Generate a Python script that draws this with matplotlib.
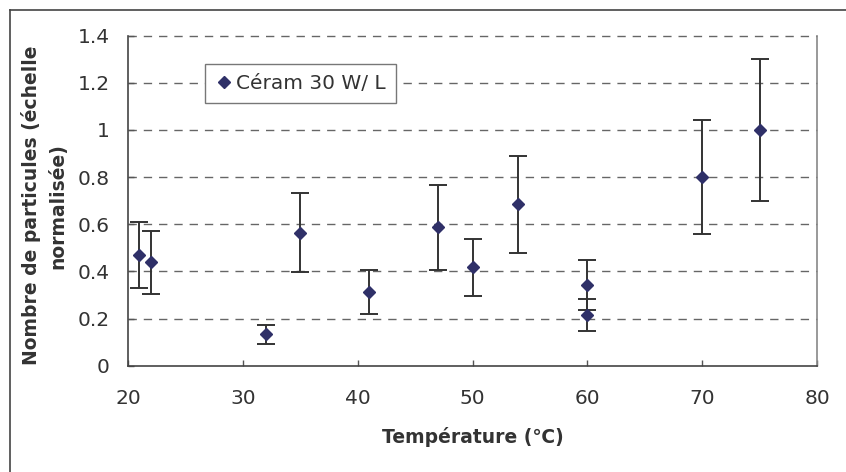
import matplotlib
matplotlib.use("Agg")
import matplotlib.pyplot as plt
from matplotlib.lines import Line2D

plt.rcParams['font.family'] = ['DejaVu Sans']

temperature = [21, 22, 32, 35, 41, 47, 50, 54, 60, 60, 70, 75]
particles = [0.47, 0.439, 0.133, 0.564, 0.313, 0.588, 0.417, 0.685, 0.342, 0.215, 0.802, 1.0]
errors = [0.14, 0.134, 0.041, 0.167, 0.093, 0.18, 0.122, 0.205, 0.105, 0.066, 0.242, 0.30]
series_label = "Céram 30 W/ L"
x_ticks = [20, 30, 40, 50, 60, 70, 80]
y_ticks = [0, 0.2, 0.4, 0.6, 0.8, 1, 1.2, 1.4]
y_tick_labels = ["0", "0.2", "0.4", "0.6", "0.8", "1", "1.2", "1.4"]

W, H = 846, 472
fig = plt.figure(figsize=(W / 100, H / 100), dpi=100)
ax = fig.add_axes([128 / W, 1 - 365.7 / H, (817 - 128) / W, (365.7 - 35.7) / H])

text_col = '#333333'
ax.errorbar(temperature, particles, yerr=errors, fmt='D', color='#2F3068',
            markersize=6, markeredgecolor='#2F3068', ecolor='#333333',
            elinewidth=1.4, capsize=6.5, capthick=1.4, label=series_label, zorder=3)

ax.set_xlim(20, 80)
ax.set_ylim(0, 1.4)
ax.set_xticks(x_ticks)
ax.set_yticks(y_ticks)
ax.set_yticklabels(y_tick_labels)
ax.tick_params(axis='both', direction='in', length=4, width=1, colors='#555555',
               labelsize=14.5, labelcolor=text_col)
ax.tick_params(axis='x', pad=17)
ax.tick_params(axis='y', pad=13)

for y in y_ticks[1:]:
    ax.axhline(y, color='#666666', lw=1, dashes=(6, 5), zorder=1, clip_on=False)

ax.spines['top'].set_visible(False)
ax.spines['right'].set_color('#888888')
ax.spines['left'].set_color('#444444')
ax.spines['bottom'].set_color('#444444')
for s in ax.spines.values():
    s.set_linewidth(1.2)

ax.set_xlabel("Température (℃)", fontsize=13.5, fontweight='bold', color=text_col)
ax.xaxis.set_label_coords(0.5, (365.7 - 437) / 330)
ax.xaxis.label.set_va('center')
ax.set_ylabel("Nombre de particules (échelle\nnormalisée)", fontsize=13.5,
              fontweight='bold', color=text_col, multialignment='center',
              linespacing=1.5)
ax.yaxis.set_label_coords((44 - 128) / 689, 0.485)
ax.yaxis.label.set_va('center')

handle = Line2D([], [], marker='D', ls='none', color='#2F3068', markersize=6)
leg = ax.legend([handle], [series_label], loc='upper left',
                bbox_to_anchor=((205 - 128) / 689, (365.7 - 64) / 330),
                fontsize=14.5, frameon=True, fancybox=False, borderpad=0.5,
                handletextpad=0.15, handlelength=0.9, borderaxespad=0,
                labelcolor=text_col)
leg.get_frame().set_edgecolor('#777777')
leg.get_frame().set_linewidth(1)
leg.get_frame().set_alpha(1)

# outer chart frame
fig.add_artist(Line2D([10 / W, 10 / W], [1 - 10 / H, 0], transform=fig.transFigure,
                      color='#444444', lw=1.2))
fig.add_artist(Line2D([10 / W, 1], [1 - 10 / H, 1 - 10 / H], transform=fig.transFigure,
                      color='#444444', lw=1.2))

fig.savefig("out.png", dpi=100)
